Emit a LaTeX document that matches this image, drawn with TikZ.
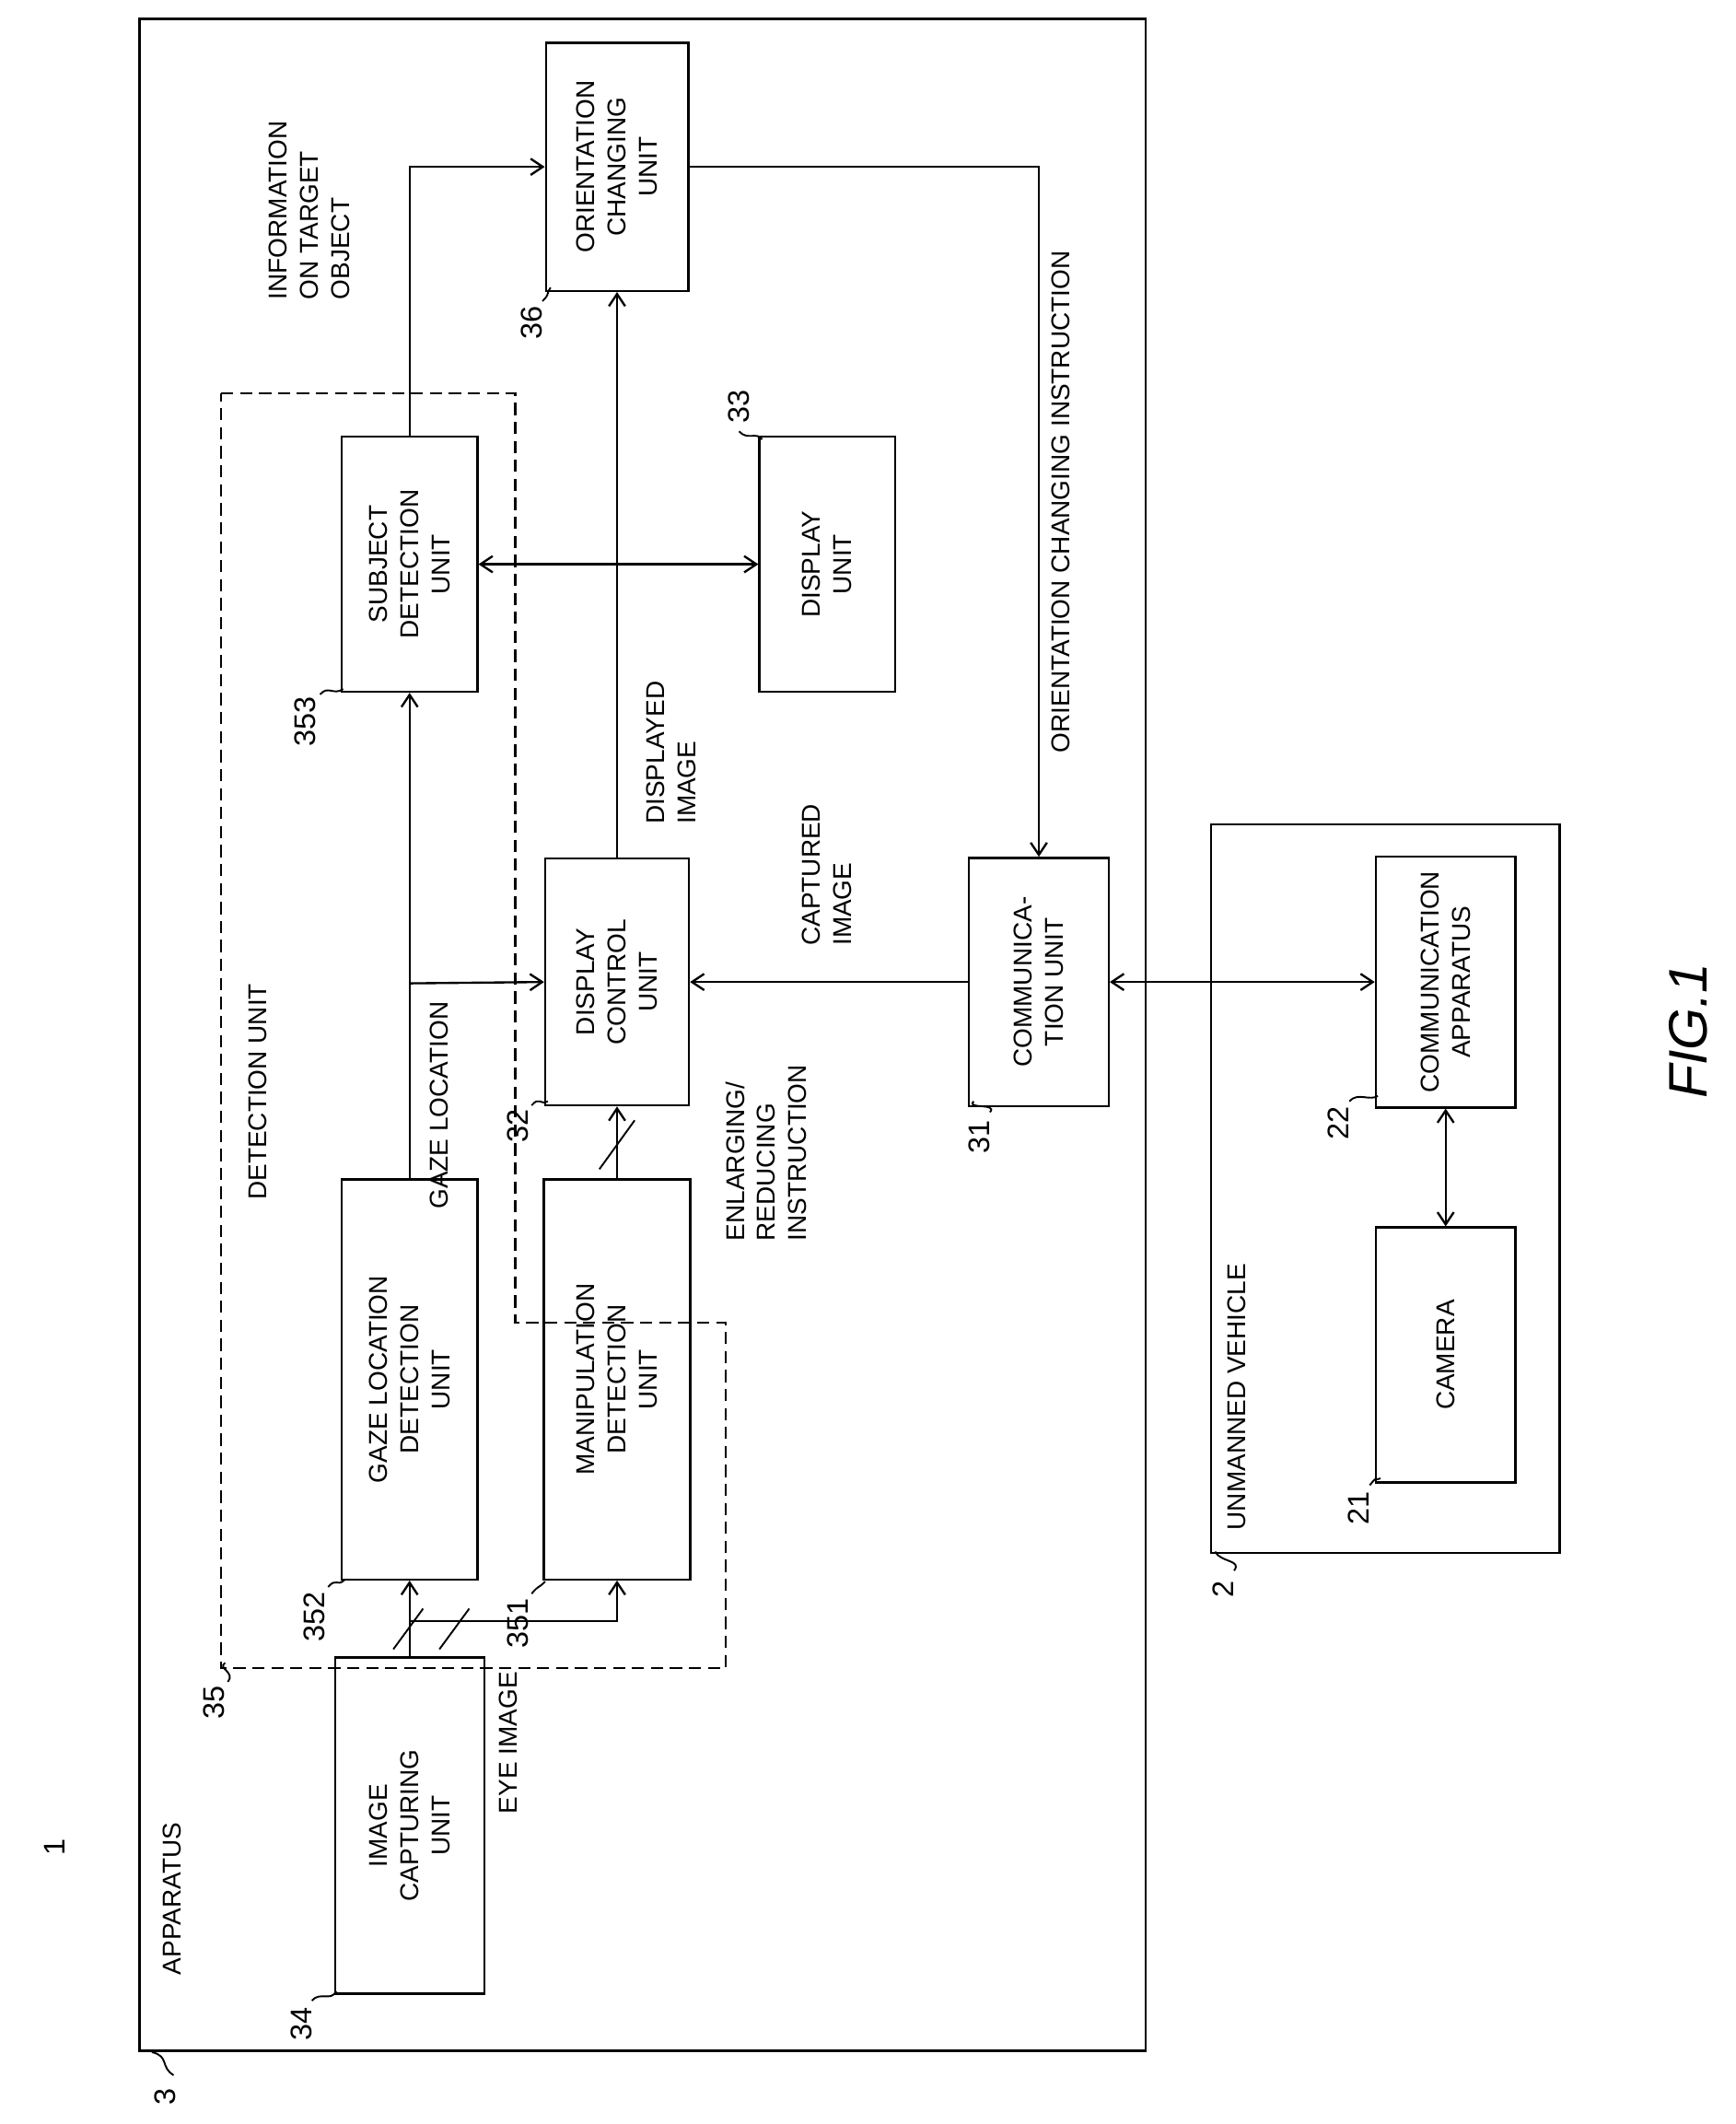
\documentclass[tikz,border=0pt]{standalone}
\usepackage{fontspec}
\setmainfont{Liberation Sans}
\usetikzlibrary{arrows.meta}
\begin{document}
\begin{tikzpicture}[x=1pt,y=-1pt,line width=1.6pt,
 box/.style={draw,rotate=90,align=center,inner sep=2pt,font=\fontsize{19}{23}\selectfont},
 txt/.style={rotate=90,align=left,inner sep=0pt,font=\fontsize{19}{23}\selectfont},
 num/.style={rotate=90,inner sep=0pt,font=\fontsize{22}{26}\selectfont},
 arr/.style={-{Straight Barb[length=9pt,width=12pt]}},
 darr/.style={{Straight Barb[length=9pt,width=12pt]}-{Straight Barb[length=9pt,width=12pt]}},
 sq/.style={line width=1.3pt}]
\useasboundingbox (0,0) rectangle (1280,1566);
\draw (103,14) rectangle (845,1512);
\node[txt] (app) at (127,1400) {APPARATUS};
\node[num] (one) at (40,1362) {1};
\node[num] (l3) at (122,1546) {3};
\draw[sq] (128,1530) .. controls (118,1524) and (125,1516) .. (112,1513);
% boxes
\node[box,minimum width=248,minimum height=110] (cap) at (302,1346) {IMAGE\\CAPTURING\\UNIT};
\node[box,minimum width=295,minimum height=100] (gaze) at (302,1017) {GAZE LOCATION\\DETECTION\\UNIT};
\node[box,minimum width=295,minimum height=108] (man) at (455,1017) {MANIPULATION\\DETECTION\\UNIT};
\node[box,minimum width=188,minimum height=100] (subj) at (302,416) {SUBJECT\\DETECTION\\UNIT};
\node[box,minimum width=182,minimum height=106] (dc) at (455,724) {DISPLAY\\CONTROL\\UNIT};
\node[box,minimum width=188,minimum height=100] (du) at (610,416) {DISPLAY\\UNIT};
\node[box,minimum width=183,minimum height=105] (oc) at (455,123) {ORIENTATION\\CHANGING\\UNIT};
\node[box,minimum width=183,minimum height=103] (cu) at (766,724) {COMMUNICA-\\TION UNIT};
\draw (893,608) rectangle (1150,1145);
\node[box,minimum width=185,minimum height=103] (ca) at (1066,724) {COMMUNICATION\\APPARATUS};
\node[box,minimum width=188,minimum height=103] (cam) at (1066,999) {CAMERA};
% detection unit dashed
\draw[dash pattern=on 9pt off 5pt,line width=1.6pt] (163,290) -- (380,290) -- (380,975) -- (535,975) -- (535,1230) -- (163,1230) -- cycle;
\node[txt] (det) at (190,805) {DETECTION UNIT};
% reference numbers
\node[num] (n34) at (222,1492) {34};
\draw[sq] (230,1475) .. controls (236,1468) and (244,1476) .. (248,1468);
\node[num] (n35) at (158,1255) {35};
\draw[sq] (168,1240) .. controls (174,1233) and (160,1230) .. (166,1226);
\node[num] (n352) at (232,1192) {352};
\draw[sq] (242,1170) .. controls (248,1163) and (248,1170) .. (254,1165);
\node[num] (n351) at (382,1197) {351};
\draw[sq] (392,1175) .. controls (398,1168) and (396,1172) .. (402,1166);
\node[num] (n353) at (225,532) {353};
\draw[sq] (236,512) .. controls (242,505) and (246,513) .. (253,508);
\node[num] (n32) at (382,830) {32};
\draw[sq] (392,815) .. controls (398,808) and (398,815) .. (404,812);
\node[num] (n33) at (545,300) {33};
\draw[sq] (545,318) .. controls (551,325) and (558,318) .. (562,324);
\node[num] (n36) at (392,238) {36};
\draw[sq] (400,222) .. controls (406,216) and (402,218) .. (406,212);
\node[num] (n31) at (722,838) {31};
\draw[sq] (730,820) .. controls (736,813) and (712,818) .. (718,812);
\node[num] (n2) at (902,1172) {2};
\draw[sq] (910,1158) .. controls (916,1150) and (900,1152) .. (896,1144);
\node[num] (n22) at (987,828) {22};
\draw[sq] (995,812) .. controls (1001,805) and (1010,812) .. (1016,808);
\node[num] (n21) at (1002,1112) {21};
\draw[sq] (1010,1095) .. controls (1016,1088) and (1012,1092) .. (1018,1090);
% connectors
\coordinate (b1) at (302,1195);
\coordinate (b2) at (302,725);
\draw[arr] (cap.east) -- (gaze.west);
\draw[arr] (b1) -| (man.west);
\draw[arr] (gaze.east) -- (subj.west);
\draw[arr] (b2) -- (dc.north);
\draw[arr] (man.east) -- (dc.west);
\draw[arr] (subj.east) |- (oc.north);
\draw[arr] (dc.east) -- (oc.west);
\draw[darr] (subj.south) -- (du.north);
\draw[arr] (oc.south) -| (cu.east);
\draw[arr] (cu.north) -- (dc.south);
\draw[darr] (cu.south) -- (ca.north);
\draw[darr] (ca.west) -- (cam.east);
% slashes
\draw[sq] (290,1216) -- (312,1186);
\draw[sq] (324,1216) -- (346,1186);
\draw[sq] (442,862) -- (468,826);
% labels
\node[txt] (t1) at (375,1285) {EYE IMAGE};
\node[txt] (t2) at (324,815) {GAZE LOCATION};
\node[txt] (t3) at (565,850) {ENLARGING/\\REDUCING\\INSTRUCTION};
\node[txt] (t4) at (228,155) {INFORMATION\\ON TARGET\\OBJECT};
\node[txt] (t5) at (495,555) {DISPLAYED\\IMAGE};
\node[txt] (t6) at (782,370) {ORIENTATION CHANGING INSTRUCTION};
\node[txt] (t7) at (610,645) {CAPTURED\\IMAGE};
\node[txt] (t8) at (912,1030) {UNMANNED VEHICLE};
\node[rotate=90,font=\fontsize{40}{44}\selectfont\itshape] (fig) at (1245,760) {FIG.1};
\end{tikzpicture}
\end{document}
